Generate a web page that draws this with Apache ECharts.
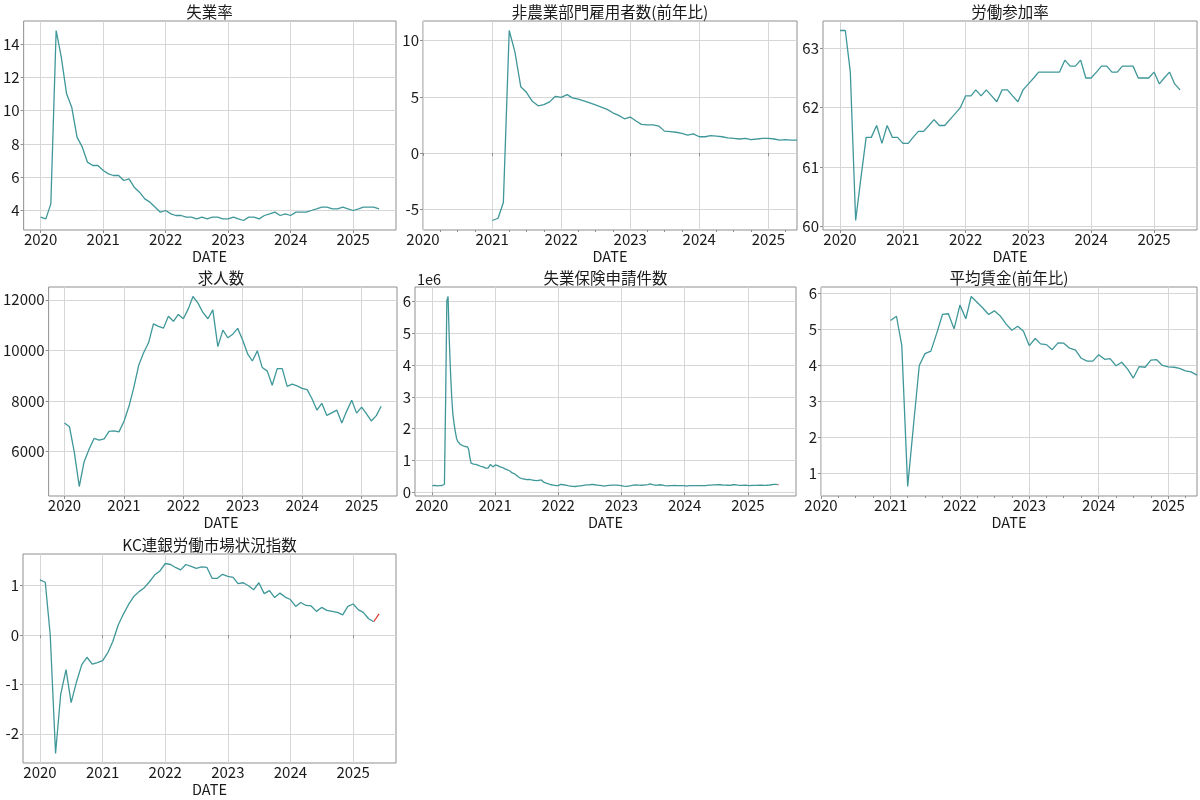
<!DOCTYPE html>
<html><head><meta charset="utf-8">
<script src="https://cdn.jsdelivr.net/npm/echarts@6.0.0/dist/echarts.min.js"></script>
<style>html,body{margin:0;padding:0;background:#fff}#c{width:1200px;height:800px}</style>
</head><body><div id="c"></div>
<script>
// ---------- data ----------
const yearTicks = [2020, 2021, 2022, 2023, 2024, 2025];

const unemployment = [
  3.6, 3.5, 4.4, 14.8, 13.2, 11.0, 10.2, 8.4, 7.8, 6.9, 6.7, 6.7,
  6.4, 6.2, 6.1, 6.1, 5.8, 5.9, 5.4, 5.1, 4.7, 4.5, 4.2, 3.9,
  4.0, 3.8, 3.7, 3.7, 3.6, 3.6, 3.5, 3.6, 3.5, 3.6, 3.6, 3.5,
  3.5, 3.6, 3.5, 3.4, 3.6, 3.6, 3.5, 3.7, 3.8, 3.9, 3.7, 3.8,
  3.7, 3.9, 3.9, 3.9, 4.0, 4.1, 4.2, 4.2, 4.1, 4.1, 4.2, 4.1,
  4.0, 4.1, 4.2, 4.2, 4.2, 4.1
];
const payrollsYoY = [
  -6.0, -5.8, -4.4, 10.9, 9.0, 5.9, 5.4, 4.6, 4.2, 4.3, 4.55, 5.05,
  4.95, 5.2, 4.91, 4.79, 4.64, 4.47, 4.29, 4.08, 3.88, 3.58, 3.35, 3.05,
  3.2, 2.85, 2.55, 2.5, 2.5, 2.4, 1.95, 1.9, 1.85, 1.75, 1.6, 1.7,
  1.45, 1.45, 1.55, 1.5, 1.45, 1.35, 1.3, 1.25, 1.3, 1.2, 1.25, 1.3,
  1.3, 1.25, 1.15, 1.2, 1.15, 1.15
];
const participation = [
  63.3, 63.3, 62.6, 60.1, 60.8, 61.5, 61.5, 61.7, 61.4, 61.7, 61.5, 61.5,
  61.4, 61.4, 61.5, 61.6, 61.6, 61.7, 61.8, 61.7, 61.7, 61.8, 61.9, 62.0,
  62.2, 62.2, 62.3, 62.2, 62.3, 62.2, 62.1, 62.3, 62.3, 62.2, 62.1, 62.3,
  62.4, 62.5, 62.6, 62.6, 62.6, 62.6, 62.6, 62.8, 62.7, 62.7, 62.8, 62.5,
  62.5, 62.6, 62.7, 62.7, 62.6, 62.6, 62.7, 62.7, 62.7, 62.5, 62.5, 62.5,
  62.6, 62.4, 62.5, 62.6, 62.4, 62.3
];
const jobOpenings = [
  7130, 6980, 6000, 4620, 5600, 6100, 6520, 6450, 6500, 6800, 6820, 6780,
  7200, 7800, 8500, 9400, 9900, 10300, 11050, 10950, 10880, 11350, 11150, 11420,
  11250, 11650, 12130, 11870, 11500, 11250, 11600, 10150, 10800, 10500, 10640, 10870,
  10400, 9850, 9580, 9980, 9320, 9180, 8620, 9280, 9280, 8580, 8670, 8600,
  8500, 8450, 8100, 7640, 7910, 7430, 7530, 7640, 7130, 7600, 8030, 7520,
  7760, 7480, 7210, 7420, 7790
];
// weekly initial claims (thousands), week ending Saturdays from 2020-01-04
const claims2020 = [
  214, 207, 220, 216, 203, 206, 215, 219, 217, 211, 256, 2920, 6015,
  6149, 4800, 3800, 3000, 2450, 2150, 1900, 1700, 1600, 1540, 1510, 1490, 1470,
  1450, 1440, 1470, 1430, 1350, 1100, 920, 910, 890, 900, 880, 870, 850,
  840, 820, 810, 800, 780, 760, 780, 760, 740, 880, 850, 800, 790
];
const claims2021 = [
  860, 880, 840, 820, 800, 790, 780, 760, 740, 720, 710, 690, 670,
  640, 610, 590, 580, 550, 520, 490, 460, 440, 430, 420, 420, 410,
  400, 390, 410, 395, 390, 385, 380, 375, 370, 370, 380, 395, 390,
  350, 320, 300, 290, 280, 270, 260, 240, 235, 225, 215, 210, 205
];
const claims2022 = [
  215, 230, 250, 245, 240, 230, 225, 215, 210, 205, 200, 195, 190,
  185, 185, 190, 195, 200, 205, 210, 215, 220, 225, 230, 235, 235,
  240, 245, 250, 245, 240, 235, 230, 225, 220, 215, 210, 205, 200,
  205, 210, 215, 220, 225, 225, 225, 230, 230, 225, 220, 220, 215, 215
];
const claims2023 = [
  210, 200, 195, 190, 195, 200, 205, 210, 215, 225, 235, 235, 230,
  230, 225, 225, 225, 225, 230, 235, 235, 245, 260, 265, 255, 245,
  240, 230, 225, 225, 230, 240, 235, 230, 220, 215, 210, 205, 205,
  210, 210, 210, 215, 220, 225, 215, 215, 210, 210, 215, 210, 210
];
const claims2024 = [
  205, 200, 210, 215, 215, 215, 210, 210, 210, 210, 212, 212, 212,
  212, 212, 210, 210, 215, 225, 225, 222, 230, 235, 238, 235, 233,
  235, 240, 245, 240, 235, 230, 230, 228, 228, 225, 225, 222, 225,
  240, 255, 245, 235, 225, 220, 218, 220, 222, 228, 230, 225, 222
];
const claims2025 = [
  215, 212, 215, 218, 220, 218, 220, 222, 225, 225, 224, 224, 223,
  222, 222, 224, 226, 230, 235, 240, 245, 250, 252, 250, 245, 240
];
const wagesYoY = [
  5.25, 5.37, 4.55, 0.63, 2.3, 4.0, 4.33, 4.4, 4.9, 5.42, 5.44, 5.02,
  5.68, 5.3, 5.92, 5.76, 5.6, 5.42, 5.52, 5.38, 5.15, 4.98, 5.09, 4.95,
  4.55, 4.75, 4.6, 4.58, 4.44, 4.63, 4.62, 4.48, 4.43, 4.2, 4.12, 4.12,
  4.3, 4.17, 4.19, 3.99, 4.09, 3.9, 3.65, 3.97, 3.95, 4.15, 4.16, 4.0,
  3.96, 3.95, 3.92, 3.85, 3.82, 3.73
];
const kcLmci = [
  1.12, 1.07, 0.0, -2.4, -1.2, -0.7, -1.37, -0.95, -0.6, -0.45, -0.59, -0.56,
  -0.52, -0.35, -0.13, 0.2, 0.42, 0.62, 0.78, 0.88, 0.96, 1.08, 1.22, 1.3,
  1.45, 1.43, 1.37, 1.32, 1.43, 1.39, 1.35, 1.38, 1.37, 1.15, 1.15, 1.23,
  1.19, 1.17, 1.04, 1.06, 1.0, 0.92, 1.06, 0.84, 0.9, 0.76, 0.85, 0.77,
  0.72, 0.58, 0.66, 0.6, 0.59, 0.48, 0.56, 0.5, 0.48, 0.46, 0.41, 0.58,
  0.63, 0.51, 0.46, 0.33, 0.27, 0.43
];
const claims = [].concat(claims2020, claims2021, claims2022, claims2023, claims2024, claims2025).map(v => v * 1000);

// ---------- helpers ----------
function monthDates(y, m, n) { const o = []; for (let i = 0; i < n; i++) o.push(new Date(y, m - 1 + i, 1).getTime()); return o; }
function weekDates(y, m, d, n) { const o = []; for (let i = 0; i < n; i++) o.push(new Date(y, m - 1, d + 7 * i).getTime()); return o; }
const yearMs = yearTicks.map(y => new Date(y, 0, 1).getTime());

const FONT = '"Noto Sans CJK JP", "Noto Sans", sans-serif';
const LINE = '#3f9799';
const RED = '#e8342c';
const TICKSIZE = 15;

const panels = [
  { title: '失業率', rect: [23, 21, 396, 230], x: monthDates(2020, 1, 66), y: unemployment, yTicks: [4, 6, 8, 10, 12, 14] },
  { title: '非農業部門雇用者数(前年比)', rect: [423, 21, 797, 230], x: monthDates(2021, 1, 54), y: payrollsYoY, yTicks: [-5, 0, 5, 10],
    xRange: [new Date(2020, 0, 1).getTime(), new Date(2025, 5, 1).getTime()], minor: true },
  { title: '労働参加率', rect: [823, 21, 1197, 230], x: monthDates(2020, 1, 66), y: participation, yTicks: [60, 61, 62, 63] },
  { title: '求人数', rect: [45, 287, 397, 496], x: monthDates(2020, 1, 65), y: jobOpenings, yTicks: [6000, 8000, 10000, 12000] },
  { title: '失業保険申請件数', rect: [415, 287, 796, 496], x: weekDates(2020, 1, 4, claims.length), y: claims,
    yTicks: [0, 1e6, 2e6, 3e6, 4e6, 5e6, 6e6], yFmt: v => String(Math.round(v / 1e6)), redTail: 2, offsetLabel: '1e6' },
  { title: '平均賃金(前年比)', rect: [821, 287, 1197, 496], x: monthDates(2021, 1, 54), y: wagesYoY, yTicks: [1, 2, 3, 4, 5, 6],
    xRange: [new Date(2020, 0, 1).getTime(), new Date(2025, 5, 1).getTime()], minor: true },
  { title: 'KC連銀労働市場状況指数', rect: [23, 554, 396, 763], x: monthDates(2020, 1, 66), y: kcLmci, yTicks: [-2, -1, 0, 1], redTail: 2 }
];

const option = { animation: false, textStyle: { fontFamily: FONT }, grid: [], xAxis: [], yAxis: [], series: [], graphic: [] };
const txt = (x, y, text, size, align) => ({
  type: 'text', x: x, y: y, silent: true,
  style: { text: text, fontSize: size, fontFamily: FONT, fill: '#1a1a1a', align: align || 'center', verticalAlign: 'middle',
           textAlign: align || 'center', textVerticalAlign: 'middle' }
});

panels.forEach((p, i) => {
  const [l, t, r, b] = p.rect;
  option.grid.push({ left: l, top: t, width: r - l, height: b - t, show: true, borderColor: '#8f8f8f', borderWidth: 1,
                     backgroundColor: 'rgba(0,0,0,0)', containLabel: false });
  let xmin, xmax;
  if (p.xRange) { [xmin, xmax] = p.xRange; }
  else { const t0 = p.x[0], t1 = p.x[p.x.length - 1]; xmin = t0 - 0.05 * (t1 - t0); xmax = t1 + 0.05 * (t1 - t0); }
  const ymn = Math.min(...p.y), ymx = Math.max(...p.y);
  const ymin = ymn - 0.05 * (ymx - ymn), ymax = ymx + 0.05 * (ymx - ymn);
  const xTicks = yearMs.filter(v => v >= xmin && v <= xmax);

  const xi = option.xAxis.length;
  option.xAxis.push({
    type: 'value', gridIndex: i, min: xmin, max: xmax, position: 'bottom', scale: true,
    axisLine: { show: false },
    axisTick: { show: true, customValues: xTicks, length: 3, lineStyle: { color: '#8f8f8f' } },
    axisLabel: { customValues: xTicks, formatter: v => String(new Date(v).getFullYear()), fontSize: TICKSIZE, color: '#1a1a1a',
                 margin: 2, fontFamily: FONT, showMinLabel: true, showMaxLabel: true },
    splitLine: { show: true, lineStyle: { color: '#d6d6d6', width: 1 } }
  });
  if (p.minor) {
    const q = [];
    yearTicks.forEach(y => [3, 6, 9].forEach(m => { const v = new Date(y, m, 1).getTime(); if (v > xmin && v < xmax) q.push(v); }));
    option.xAxis.push({
      type: 'value', gridIndex: i, min: xmin, max: xmax, position: 'bottom', scale: true,
      axisLine: { show: false }, splitLine: { show: false }, axisLabel: { show: false },
      axisTick: { show: true, customValues: q, length: 2, lineStyle: { color: '#8f8f8f' } }
    });
  }
  option.yAxis.push({
    type: 'value', gridIndex: i, min: ymin, max: ymax, scale: true,
    axisLine: { show: false },
    axisTick: { show: true, customValues: p.yTicks, length: 3, lineStyle: { color: '#8f8f8f' } },
    axisLabel: { customValues: p.yTicks, formatter: p.yFmt || (v => String(v)), fontSize: TICKSIZE, color: '#1a1a1a', margin: 4, fontFamily: FONT },
    splitLine: { show: true, lineStyle: { color: '#d6d6d6', width: 1 } }
  });
  const pts = p.x.map((x, k) => [x, p.y[k]]);
  const mainPts = p.redTail ? pts.slice(0, pts.length - p.redTail + 1) : pts;
  if (p.redTail) {
    option.series.push({ type: 'line', xAxisIndex: xi, yAxisIndex: i, data: pts.slice(pts.length - p.redTail), showSymbol: false,
                         lineStyle: { color: RED, width: 1.2 }, itemStyle: { color: RED }, silent: true, z: 2 });
  }
  option.series.push({ type: 'line', xAxisIndex: xi, yAxisIndex: i, data: mainPts, showSymbol: false,
                       lineStyle: { color: LINE, width: 1.3 }, itemStyle: { color: LINE }, silent: true, z: 3 });

  option.graphic.push(txt((l + r) / 2, t - 9, p.title, 15.5));
  option.graphic.push(txt((l + r) / 2, b + 26, 'DATE', 14.5));
  if (p.offsetLabel) option.graphic.push(txt(l + 2, t - 8, p.offsetLabel, 14.5, 'left'));
});

const chart = echarts.init(document.getElementById('c'), null, { renderer: 'canvas' });
chart.setOption(option);
</script></body></html>
